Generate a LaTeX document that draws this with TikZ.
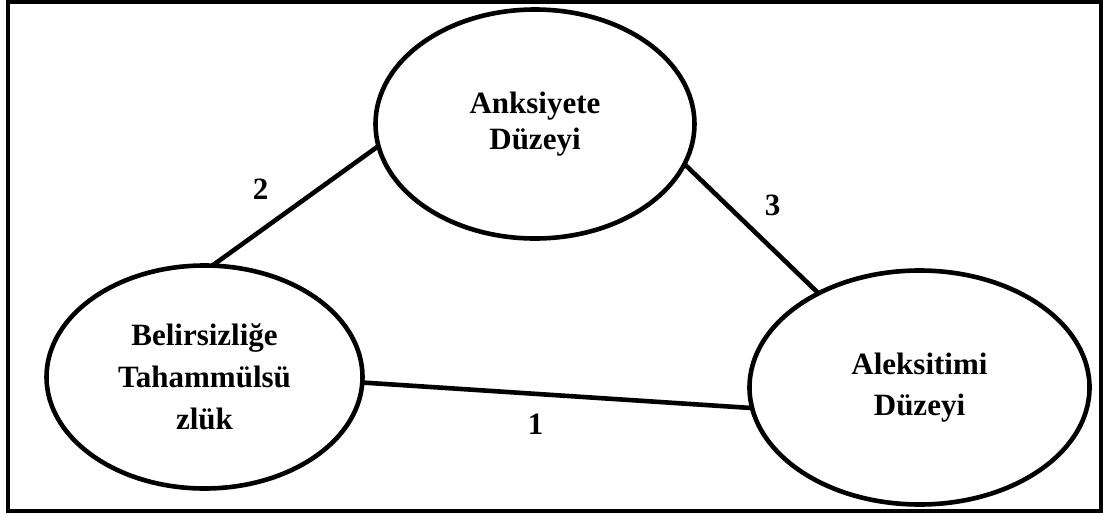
\documentclass[tikz,border=0pt]{standalone}
\usepackage{fontspec}
\setmainfont{Liberation Serif}
\usetikzlibrary{shapes.geometric}
\begin{document}
\begin{tikzpicture}[x=1pt,y=-1pt,
  concept/.style={ellipse,draw,line width=4.6pt,inner sep=0pt,outer sep=0pt,
    align=center,font=\bfseries\fontsize{31}{36}\selectfont},
  link/.style={line width=4.6pt},
  num/.style={font=\bfseries\fontsize{31}{36}\selectfont,inner sep=0pt}]
  \useasboundingbox (0,0) rectangle (1103,515);
  % outer frame
  \draw[line width=3.6pt] (8,1.8) rectangle (1101,511);
  % concepts
  \node[concept,minimum width=319pt,minimum height=229pt] (anx) at (535,124)
    {Anksiyete\\Düzeyi};
  \node[concept,minimum width=316pt,minimum height=223pt,
    font=\bfseries\fontsize{31}{42}\selectfont] (tol) at (204.5,377)
    {Belirsizliğe\\Tahammülsü\\zlük};
  \node[concept,minimum width=340pt,minimum height=234pt,
    font=\bfseries\fontsize{31}{41}\selectfont] (alx) at (919.5,387.5)
    {Aleksitimi\\Düzeyi};
  % relations
  \draw[link] (tol.86) -- (anx.188.7);
  \draw[link] (anx.-15) -- (alx.137);
  \draw[link] (tol.-2) -- (alx.187.6);
  % relation numbers
  \node[num] (n2) at (260.5,189.5) {2};
  \node[num] (n3) at (772.5,205.5) {3};
  \node[num] (n1) at (535.5,424.5) {1};
\end{tikzpicture}
\end{document}
